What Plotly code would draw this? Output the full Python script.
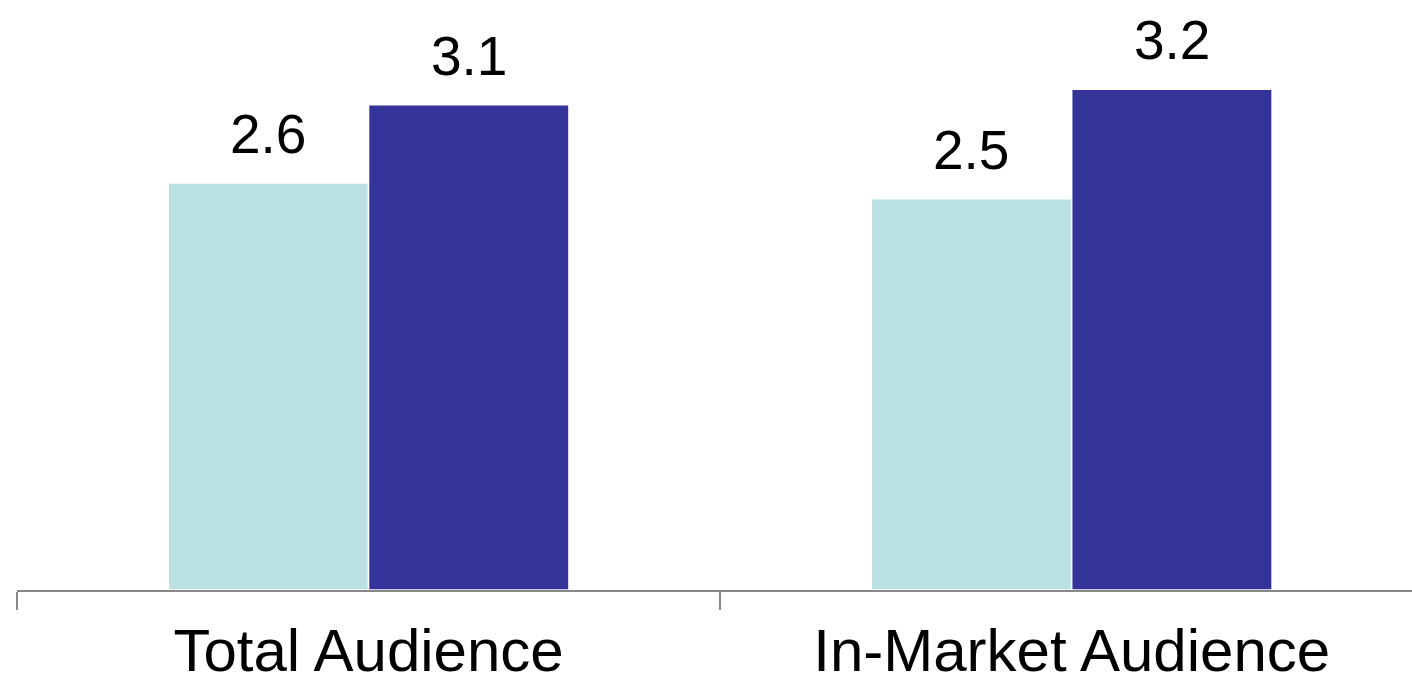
import plotly.graph_objects as go

# Audience groups and the two compared series
categories = ["Total Audience", "In-Market Audience"]
series_a = [2.6, 2.5]
series_b = [3.1, 3.2]

color_a = "#bbe0e3"
color_b = "#333399"
axis_gray = "#888888"

fig = go.Figure()
for vals, col, name in [(series_a, color_a, "A"), (series_b, color_b, "B")]:
    fig.add_trace(go.Bar(
        x=categories, y=vals, name=name,
        marker=dict(color=col, line=dict(color="white", width=1.5)),
        showlegend=False, hoverinfo="skip",
    ))

# Value labels above each bar, positioned from the same values
offsets = [-0.1425, 0.1425]
for k, vals in enumerate([series_a, series_b]):
    for i, v in enumerate(vals):
        fig.add_annotation(
            x=i + offsets[k], y=v, xref="x", yref="y",
            text=f"{v:.1f}", showarrow=False,
            yanchor="bottom", yshift=16,
            font=dict(family="Liberation Sans, Arial, sans-serif", size=55, color="#000000"),
        )

fig.update_layout(
    width=1412, height=685,
    margin=dict(l=17, r=0, t=0, b=95, autoexpand=False),
    paper_bgcolor="white", plot_bgcolor="white",
    barmode="group", bargap=0.43, bargroupgap=0.0,
    xaxis=dict(
        type="category", range=[-0.5, 1.484], automargin=False,
        showline=True, linecolor=axis_gray, linewidth=2,
        ticks="outside", tickson="boundaries", ticklen=18,
        tickwidth=2, tickcolor=axis_gray, ticklabelstandoff=7,
        tickfont=dict(family="Liberation Sans, Arial, sans-serif", size=60, color="#000000"),
        showgrid=False, zeroline=False, fixedrange=True,
    ),
    yaxis=dict(
        range=[0, 3.77], visible=False, showgrid=False, zeroline=False,
        automargin=False,
    ),
)

fig.write_html("out.html")
